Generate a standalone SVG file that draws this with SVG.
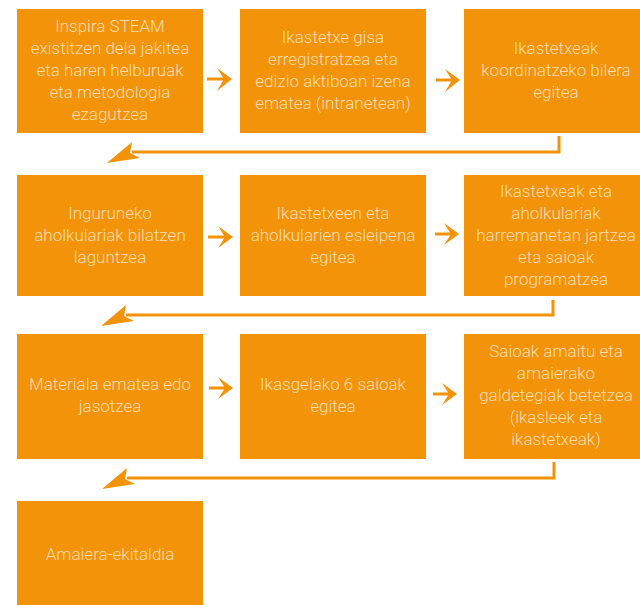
<svg xmlns="http://www.w3.org/2000/svg" width="640" height="605" viewBox="0 0 640 605">
<style>
.box{fill:#F29309}
.t{font-family:Roboto,"Liberation Sans",sans-serif;font-weight:300;font-size:17px;fill:#FCDDAE;text-anchor:middle}
.ln{fill:none;stroke:#F29309;stroke-width:3}
.ah{fill:#F29309}
</style>
<rect width="640" height="605" fill="#ffffff"/>
<g id="n1"><rect class="box" x="17" y="9" width="186" height="124"/>
<text class="t"><tspan x="110" y="32">Inspira STEAM</tspan><tspan x="110" y="54">existitzen dela jakitea</tspan><tspan x="110" y="76">eta haren helburuak</tspan><tspan x="110" y="98">eta metodologia</tspan><tspan x="110" y="120">ezagutzea</tspan></text></g>
<g id="n2"><rect class="box" x="240" y="9" width="186" height="124"/>
<text class="t"><tspan x="333" y="43">Ikastetxe gisa</tspan><tspan x="333" y="65">erregistratzea eta</tspan><tspan x="333" y="87">edizio aktiboan izena</tspan><tspan x="333" y="109">ematea (intranetean)</tspan></text></g>
<g id="n3"><rect class="box" x="464" y="9" width="184" height="124"/>
<text class="t"><tspan x="556" y="54">Ikastetxeak</tspan><tspan x="556" y="76">koordinatzeko bilera</tspan><tspan x="556" y="98">egitea</tspan></text></g>
<g id="n4"><rect class="box" x="17" y="175" width="186" height="121"/>
<text class="t"><tspan x="110" y="219">Inguruneko</tspan><tspan x="110" y="241">aholkulariak bilatzen</tspan><tspan x="110" y="263">laguntzea</tspan></text></g>
<g id="n5"><rect class="box" x="240" y="175" width="186" height="121"/>
<text class="t"><tspan x="333" y="219">Ikastetxeen eta</tspan><tspan x="333" y="241">aholkularien esleipena</tspan><tspan x="333" y="263">egitea</tspan></text></g>
<g id="n6"><rect class="box" x="464" y="175" width="184" height="121"/>
<text class="t"><tspan x="556" y="197">Ikastetxeak eta</tspan><tspan x="556" y="219">aholkulariak</tspan><tspan x="556" y="241">harremanetan jartzea</tspan><tspan x="556" y="263">eta saioak</tspan><tspan x="556" y="285">programatzea</tspan></text></g>
<g id="n7"><rect class="box" x="17" y="334" width="186" height="125"/>
<text class="t"><tspan x="110" y="390">Materiala ematea edo</tspan><tspan x="110" y="412">jasotzea</tspan></text></g>
<g id="n8"><rect class="box" x="240" y="334" width="186" height="125"/>
<text class="t"><tspan x="333" y="390">Ikasgelako 6 saioak</tspan><tspan x="333" y="412">egitea</tspan></text></g>
<g id="n9"><rect class="box" x="464" y="334" width="184" height="125"/>
<text class="t"><tspan x="556" y="357">Saioak amaitu eta</tspan><tspan x="556" y="379">amaierako</tspan><tspan x="556" y="401">galdetegiak betetzea</tspan><tspan x="556" y="423">(ikasleek eta</tspan><tspan x="556" y="445">ikastetxeak)</tspan></text></g>
<g id="n10"><rect class="box" x="17" y="501" width="186" height="110"/>
<text class="t"><tspan x="110" y="560">Amaiera-ekitaldia</tspan></text></g>
<g id="connectors">
<path class="ln" d="M207,79 H226"/><polygon class="ah" points="232,79 217,68 224,79 217,91"/>
<path class="ln" d="M436,80 H454"/><polygon class="ah" points="460,80 445,69 452,80 445,92"/>
<path class="ln" d="M208,237 H227"/><polygon class="ah" points="233,237 218,226 225,237 218,248"/>
<path class="ln" d="M435,234 H453"/><polygon class="ah" points="459,234 444,223 451,234 444,245"/>
<path class="ln" d="M209,388 H227"/><polygon class="ah" points="233,388 218,377 225,388 218,399"/>
<path class="ln" d="M433,394 H451"/><polygon class="ah" points="457,394 442,383 449,394 442,405"/>
<path class="ln" d="M559,136 V152 H132"/><polygon class="ah" points="107,163 132,142 130,153 140,158"/>
<path class="ln" d="M553,300 V315 H126"/><polygon class="ah" points="101,326 126,305 124,316 134,321"/>
<path class="ln" d="M554,462 V478 H127"/><polygon class="ah" points="102,489 127,468 125,479 135,484"/>
</g>
</svg>
